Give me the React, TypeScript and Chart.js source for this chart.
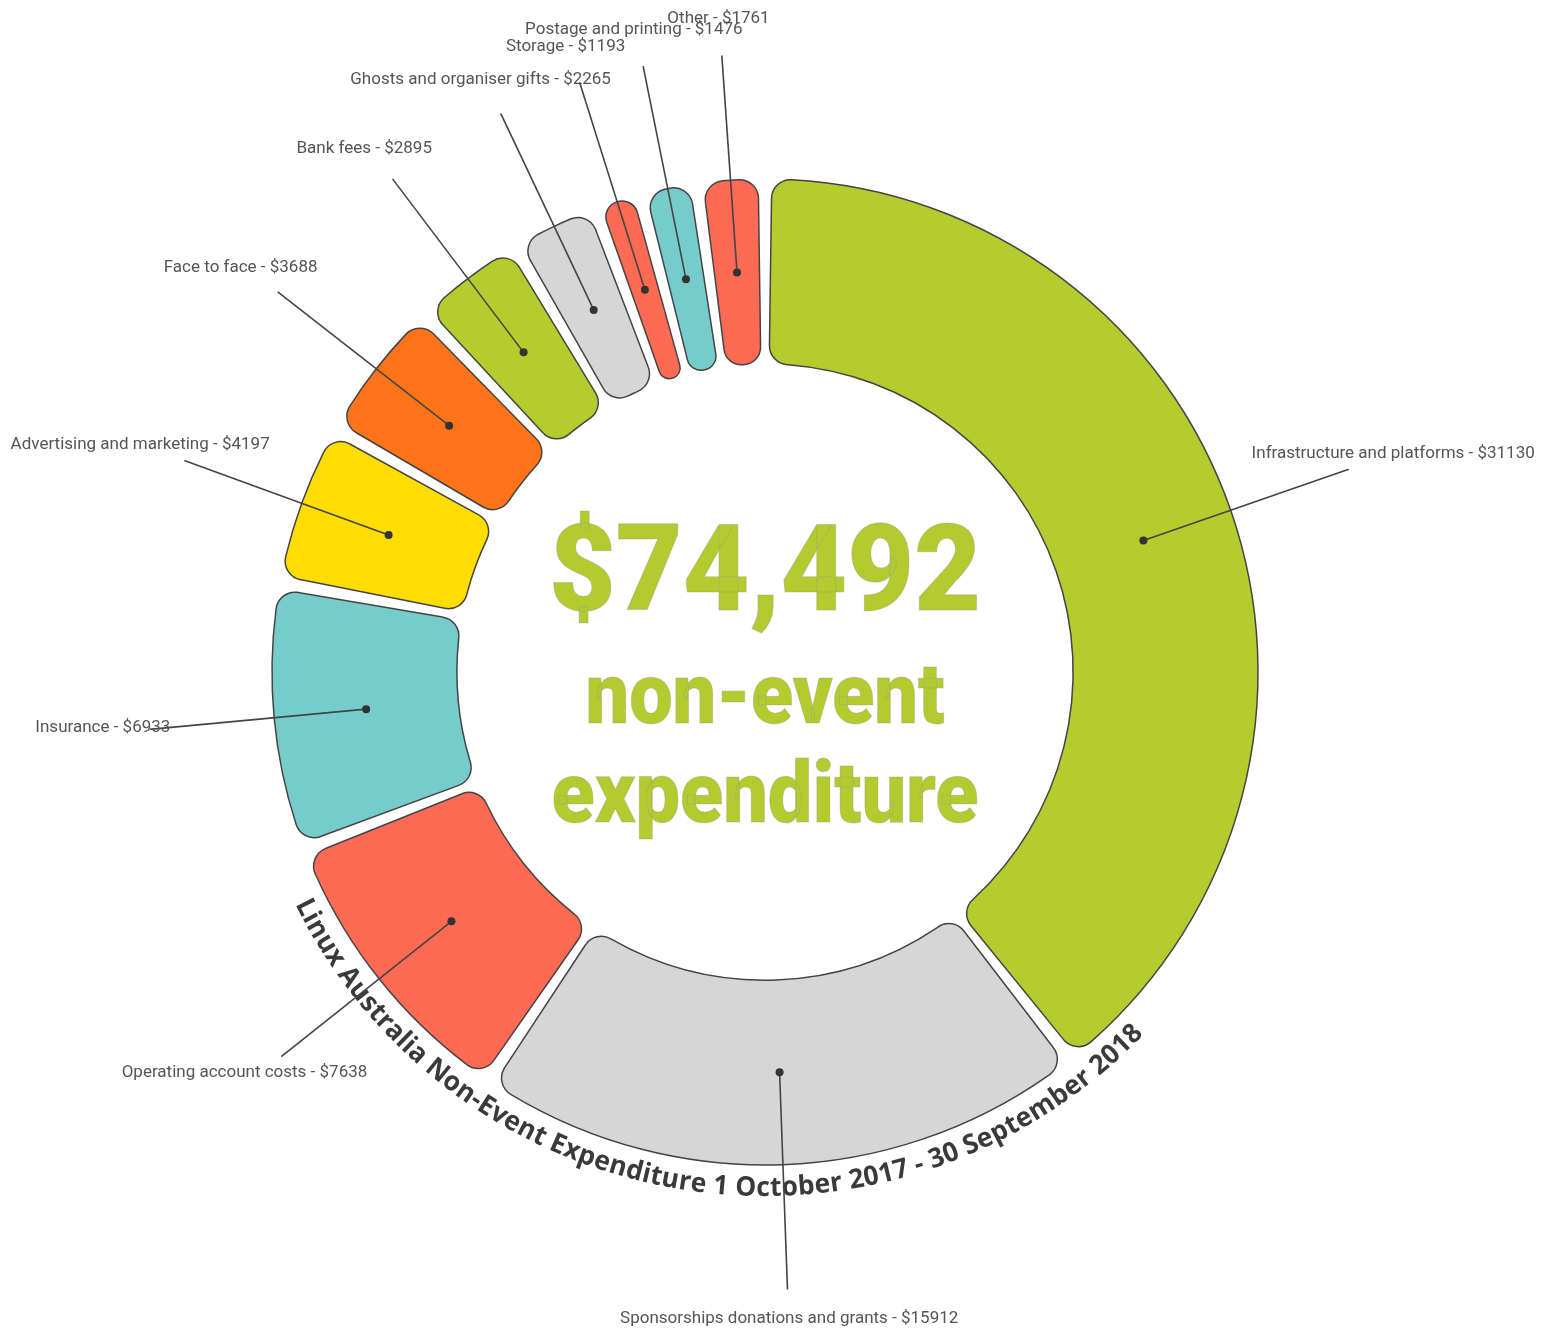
import React, { useEffect, useRef } from "react";
import { Chart, registerables } from "chart.js";

Chart.register(...registerables);

const categories = [
  "Infrastructure and platforms",
  "Sponsorships donations and grants",
  "Operating account costs",
  "Insurance",
  "Advertising and marketing",
  "Face to face",
  "Bank fees",
  "Ghosts and organiser gifts",
  "Storage",
  "Postage and printing",
  "Other",
];
const amounts = [31130, 15912, 7638, 6933, 4197, 3688, 2895, 2265, 1193, 1476, 1761];
const sliceColors = [
  "#b5cc2e",
  "#d6d6d6",
  "#ff6a55",
  "#76cccb",
  "#ffdd00",
  "#ff7418",
  "#b5cc2e",
  "#d6d6d6",
  "#ff6a55",
  "#76cccb",
  "#ff6a55",
];
const centerLines = ["$74,492", "non-event", "expenditure"];
const titleText = "Linux Australia Non-Event Expenditure 1 October 2017 - 30 September 2018";

const GAP_PX = 11;

// pads every slice by a constant gap (like a pad angle) while the slices are drawn
const padPlugin = {
  id: "padGap",
  beforeDatasetsDraw(chart: any) {
    const meta = chart.getDatasetMeta(0);
    meta.data.forEach((arc: any) => {
      const avR = (arc.innerRadius + arc.outerRadius) / 2;
      const half = GAP_PX / 2 / avR;
      arc.$saved = [arc.startAngle, arc.endAngle, arc.circumference];
      arc.startAngle += half;
      arc.endAngle -= half;
      arc.circumference -= 2 * half;
    });
  },
  afterDatasetsDraw(chart: any) {
    const meta = chart.getDatasetMeta(0);
    meta.data.forEach((arc: any) => {
      if (arc.$saved) {
        [arc.startAngle, arc.endAngle, arc.circumference] = arc.$saved;
        arc.$saved = null;
      }
    });
  },
};

const calloutPlugin = {
  id: "callouts",
  afterDatasetsDraw(chart: any) {
    const ctx: CanvasRenderingContext2D = chart.ctx;
    const meta = chart.getDatasetMeta(0);
    const first = meta.data[0];
    if (!first) return;
    const cx = first.x;
    const cy = first.y;
    const outerR = first.outerRadius;

    // curved title along the bottom of the ring
    ctx.save();
    ctx.font = 'bold 27px "Open Sans", sans-serif';
    ctx.fillStyle = "#3a3a3a";
    ctx.textAlign = "center";
    ctx.textBaseline = "alphabetic";
    const chars = Array.from(titleText);
    const widths = chars.map((c) => ctx.measureText(c).width);
    const total = widths.reduce((s, w) => s + w, 0);
    const rMid = outerR + 20;
    const rBase = outerR + 31;
    const span = (110 * Math.PI) / 180;
    const thetaCenter = (188.7 * Math.PI) / 180;
    const sx = (span * rMid) / total;
    let theta = thetaCenter + span / 2;
    chars.forEach((c, i) => {
      const w = widths[i] * sx;
      const d = w / rMid;
      const tc = theta - d / 2;
      const px = cx + rBase * Math.sin(tc);
      const py = cy - rBase * Math.cos(tc);
      ctx.save();
      ctx.translate(px, py);
      ctx.rotate(tc - Math.PI);
      ctx.scale(sx, 1);
      ctx.fillText(c, 0, 0);
      ctx.restore();
      theta -= d;
    });
    ctx.restore();

    // leader lines, dots and labels
    meta.data.forEach((arc: any, i: number) => {
      const { x, y, innerRadius, outerRadius } = arc;
      const [sA, eA] = arc.$saved ? arc.$saved : [arc.startAngle, arc.endAngle];
      const a = (sA + eA) / 2;
      const co = Math.cos(a);
      const si = Math.sin(a);
      const rDot = (innerRadius + outerRadius) / 2;
      const rLine = outerRadius + 125;
      ctx.save();
      ctx.strokeStyle = "#444444";
      ctx.lineWidth = 1.6;
      ctx.beginPath();
      ctx.moveTo(x + co * rDot, y + si * rDot);
      ctx.lineTo(x + co * rLine, y + si * rLine);
      ctx.stroke();
      ctx.fillStyle = "#333333";
      ctx.beginPath();
      ctx.arc(x + co * rDot, y + si * rDot, 4, 0, Math.PI * 2);
      ctx.fill();
      ctx.font = '17px Roboto, "Noto Sans", sans-serif';
      ctx.fillStyle = "#555555";
      ctx.textAlign = "center";
      ctx.textBaseline = "alphabetic";
      ctx.fillText(
        `${categories[i]} - $${amounts[i]}`,
        x + co * (outerRadius + 172),
        y + si * (outerRadius + 158)
      );
      ctx.restore();
    });

    // center text
    ctx.save();
    ctx.fillStyle = "#b3cb2f";
    ctx.strokeStyle = "rgba(150,150,150,0.35)";
    ctx.lineWidth = 1;
    ctx.textAlign = "center";
    ctx.textBaseline = "alphabetic";
    const specs = [
      { size: 120, base: -62, width: 432 },
      { size: 86, base: 51, width: 359 },
      { size: 86, base: 150, width: 427 },
    ];
    centerLines.forEach((t, i) => {
      const s = specs[i];
      ctx.font = `900 ${s.size}px Roboto, "Noto Sans", sans-serif`;
      const m = ctx.measureText(t).width;
      ctx.save();
      ctx.translate(cx, cy + s.base);
      ctx.scale(s.width / m, 1);
      ctx.fillText(t, 0, 0);
      ctx.strokeText(t, 0, 0);
      ctx.restore();
    });
    ctx.restore();
  },
};

export default function App() {
  const ref = useRef<HTMLCanvasElement | null>(null);
  useEffect(() => {
    if (!ref.current) return;
    const chart = new Chart(ref.current, {
      type: "doughnut",
      data: {
        labels: categories,
        datasets: [
          {
            data: amounts,
            backgroundColor: sliceColors,
            borderColor: "#444444",
            borderWidth: 1.5,
            borderRadius: 19,
            spacing: 0,
          },
        ],
      },
      options: {
        responsive: false,
        animation: false,
        radius: 493,
        cutout: "62.5%",
        layout: { padding: { left: 0, right: 13, top: 7, bottom: 0 } },
        plugins: {
          legend: { display: false },
          tooltip: { enabled: false },
        },
      } as any,
      plugins: [padPlugin, calloutPlugin],
    });
    return () => chart.destroy();
  }, []);
  return (
    <div style={{ position: "absolute", left: 0, top: 0, width: 1543, height: 1337, background: "#fff" }}>
      <canvas ref={ref} width={1543} height={1337} style={{ display: "block" }} />
    </div>
  );
}
